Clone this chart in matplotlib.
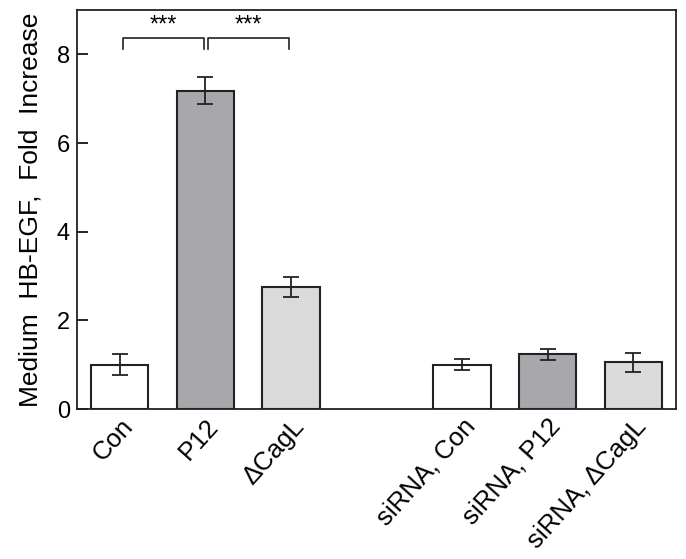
import numpy as np
import matplotlib
matplotlib.use('Agg')
import matplotlib.pyplot as plt

plt.rcParams['font.family'] = ['Liberation Sans', 'DejaVu Sans']

labels = ['Con', 'P12', '\u0394CagL', 'siRNA, Con', 'siRNA, P12', 'siRNA, \u0394CagL']
positions = [0, 1, 2, 4, 5, 6]
values = [1.0, 7.18, 2.75, 1.0, 1.23, 1.05]
errors = [0.23, 0.3, 0.22, 0.13, 0.12, 0.21]
colors = ['white', '#a8a8ac', '#dadada', 'white', '#a8a8ac', '#dadada']

fig = plt.figure(figsize=(6.86, 5.59), dpi=100)
ax = fig.add_axes([77/686, 1-409/559, (676-77)/686, (409-10)/559])

ax.bar(positions, values, width=0.67, color=colors, edgecolor='#222222', linewidth=1.5,
       yerr=errors, error_kw=dict(ecolor='#222222', elinewidth=1.3, capsize=6, capthick=1.3))

# significance brackets
brackets = [(0.04, 0.98), (1.03, 1.98)]
for x0, x1 in brackets:
    ax.plot([x0, x0, x1, x1], [8.11, 8.36, 8.36, 8.11], color='#222222', lw=1.2)
    ax.text((x0 + x1) / 2, 8.40, '***', ha='center', va='bottom', fontsize=17)

ax.set_xlim(-0.5, 6.5)
ax.set_ylim(0, 9)
ax.set_yticks([0, 2, 4, 6, 8])
ax.tick_params(axis='y', direction='in', length=8, width=1.2, labelsize=17, pad=5)
ax.set_xticks(positions)
ax.set_xticklabels(labels, rotation=48, ha='right', rotation_mode='anchor', fontsize=18.5)
ax.tick_params(axis='x', length=0, pad=4)
ax.set_ylabel('Medium  HB-EGF,  Fold  Increase', fontsize=19, labelpad=10)
for s in ax.spines.values():
    s.set_linewidth(1.3)
    s.set_color('#222222')

fig.savefig('out.png', dpi=100)
